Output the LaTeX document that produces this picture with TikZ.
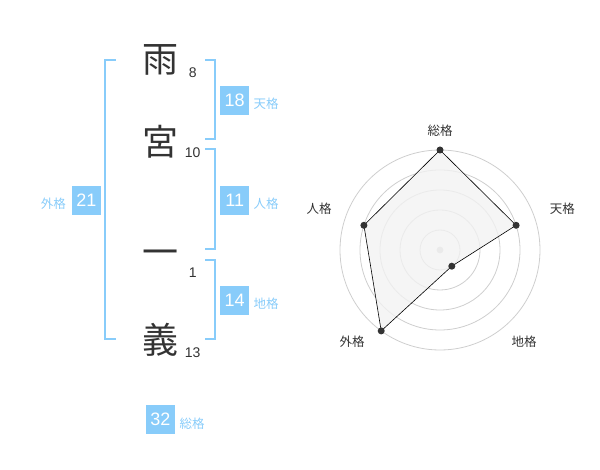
\documentclass[tikz,border=0pt]{standalone}
\usepackage{fontspec}
\setmainfont{Liberation Sans}
\newfontfamily\cjk{Noto Sans CJK JP}
\definecolor{kakublue}{RGB}{136,204,250}
\definecolor{ringgray}{RGB}{206,206,206}
\definecolor{inkgray}{RGB}{51,51,51}
\definecolor{areagray}{RGB}{242,242,242}

\begin{document}
\begin{tikzpicture}[x=1pt,y=-1pt,
  moji/.style={font=\cjk\fontsize{36}{36}\selectfont,text=inkgray,inner sep=0},
  kakusu/.style={font=\fontsize{14}{14}\selectfont,text=inkgray,inner sep=0},
  kakubox/.style={fill=kakublue,text=white,minimum size=29pt,inner sep=0,font=\fontsize{18}{18}\selectfont},
  kakuname/.style={anchor=west,font=\cjk\fontsize{12.5}{12.5}\selectfont,text=kakublue,inner sep=0},
  bracket/.style={draw=kakublue,line width=2pt},
  ring/.style={draw=ringgray,line width=0.8pt},
  radarpt/.style={circle,fill=inkgray,inner sep=0,minimum size=7pt},
  axisname/.style={font=\cjk\fontsize{12.5}{12.5}\selectfont,text=inkgray,inner sep=0}]
\useasboundingbox (0,0) rectangle (600,470);
% name characters and stroke counts
\node[moji] (ame) at (160,60) {雨};
\node[kakusu] (n8) at (192.7,72.7) {8};
\node[moji] (miya) at (160,142) {宮};
\node[kakusu] (n10) at (192.7,152.7) {10};
\node[moji] (ichi) at (160,258) {一};
\node[kakusu] (n1) at (192.7,272.7) {1};
\node[moji] (gi) at (160,340) {義};
\node[kakusu] (n13) at (192.7,352.7) {13};
% brackets
\draw[bracket] (115.7,60) -- (105,60) -- (105,339.3) -- (115.7,339.3);
\draw[bracket] (205,60) -- (215,60) -- (215,139.3) -- (205,139.3);
\draw[bracket] (205,149.3) -- (215,149.3) -- (215,249.3) -- (205,249.3);
\draw[bracket] (205,260) -- (215,260) -- (215,339.3) -- (205,339.3);
% totals
\node[kakubox] (ten) at (234.7,100.3) {18};
\node[kakuname] (tenl) at (253.5,104) {天格};
\node[kakubox] (jin) at (234.7,200.3) {11};
\node[kakuname] (jinl) at (253.5,204) {人格};
\node[kakubox] (chi) at (234.7,300.3) {14};
\node[kakuname] (chil) at (253.5,304) {地格};
\node[kakubox] (gai) at (86.3,200.3) {21};
\node[kakuname] (gail) at (40.7,204) {外格};
\node[kakubox] (sou) at (160.5,419.3) {32};
\node[kakuname] (soul) at (179.5,423.3) {総格};
% radar chart
\coordinate (c) at (440,250);
\draw[ring] (c) circle[radius=20];
\draw[ring] (c) circle[radius=40];
\draw[ring] (c) circle[radius=60];
\draw[ring] (c) circle[radius=80];
\draw[ring] (c) circle[radius=100];
\fill[ringgray] (c) circle[radius=3.4];
\coordinate (psou) at (440,150);
\coordinate (pten) at (516.1,225.3);
\coordinate (pchi) at (451.8,266.2);
\coordinate (pgai) at (381.2,330.9);
\coordinate (pjin) at (363.9,225.3);
\filldraw[fill=areagray,fill opacity=0.8,draw=black,line width=0.6pt] (psou) -- (pten) -- (pchi) -- (pgai) -- (pjin) -- cycle;
\node[radarpt] at (psou) {};
\node[radarpt] at (pten) {};
\node[radarpt] at (pchi) {};
\node[radarpt] at (pgai) {};
\node[radarpt] at (pjin) {};
\node[axisname] (asou) at (440,130.7) {総格};
\node[axisname] (aten) at (562.3,208.7) {天格};
\node[axisname] (achi) at (524.2,342) {地格};
\node[axisname] (agai) at (352.2,342) {外格};
\node[axisname] (ajin) at (319.2,208.7) {人格};
\end{tikzpicture}
\end{document}
